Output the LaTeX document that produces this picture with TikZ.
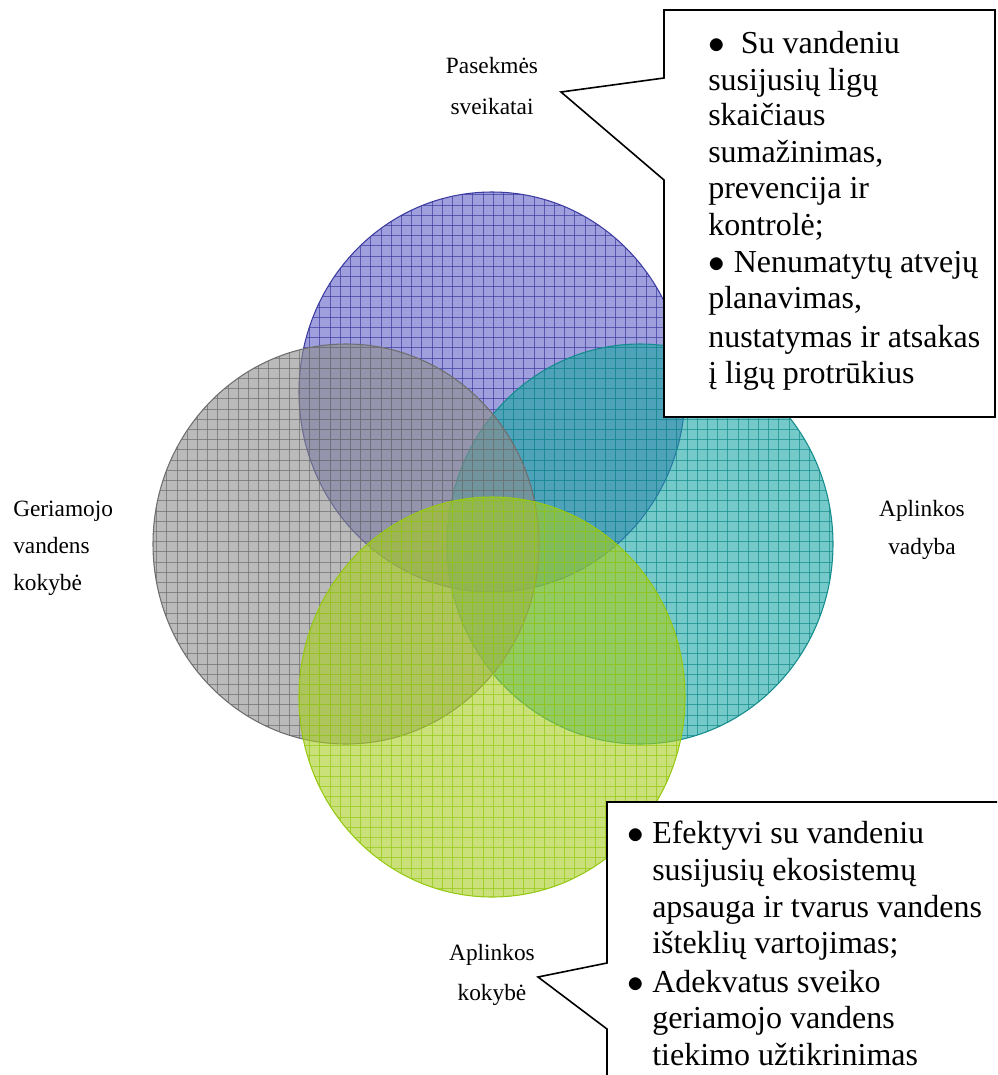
\documentclass[tikz,border=0pt]{standalone}
\usepackage{fontspec}
\setmainfont{Liberation Serif}
\definecolor{hblue}{RGB}{95,95,200}\definecolor{hblueln}{RGB}{60,60,160}
\definecolor{hteal}{RGB}{25,165,165}\definecolor{htealln}{RGB}{20,140,140}
\definecolor{hgray}{RGB}{140,140,140}\definecolor{hgrayln}{RGB}{110,110,110}
\definecolor{hgreen}{RGB}{165,205,30}\definecolor{hgreenln}{RGB}{150,200,20}
\begin{document}
\begin{tikzpicture}[x=.75pt,y=-.75pt,line cap=round,
  lbl/.style={font=\fontsize{17.5}{21}\selectfont,inner sep=0,anchor=base},
  btxt/.style={font=\fontsize{24}{28}\selectfont,inner sep=0,anchor=base west},
  callout/.style={draw=black,fill=white,line width=1.2pt,line join=miter,line cap=butt}]
\useasboundingbox(0,0)rectangle(997,1075);
\clip(0,0)rectangle(997,1075);
% hatched discs, back to front
\foreach\cx/\cy/\fc/\lc in{492/392/hblue/hblueln,640/544/hteal/htealln,346/544/hgray/hgrayln,492/697/hgreen/hgreenln}{
  \pgfmathtruncatemacro\kx{round((\cx-360.7)/10.2)}\pgfmathtruncatemacro\ky{round((\cy-256)/10.2)}
  \begin{scope}\clip(\cx,\cy)ellipse(193 and 200);\fill[\fc,fill opacity=.6](\cx,\cy)ellipse(193 and 200);
  \foreach\j in{-20,...,20}\draw[\lc,draw opacity=.7,line width=.7pt]({360.7+10.2*(\kx+\j)},{\cy-205})--++(0,410);
  \foreach\j in{-21,...,21}\draw[\lc,draw opacity=.7,line width=.7pt]({\cx-200},{256+10.2*(\ky+\j)})--++(400,0);
  \end{scope}
  \draw[\lc,line width=.8pt](\cx,\cy)ellipse(193 and 200);}
% labels
\foreach\yy/\tline[count=\i]in{73/Pasekmės,114/sveikatai}\node[lbl](ps\i)at(492,\yy){\tline};
\foreach\yy/\tline[count=\i]in{516/Geriamojo,553/vandens,590/kokybė}\node[lbl,anchor=base west](gv\i)at(13,\yy){\tline};
\foreach\yy/\tline[count=\i]in{516/Aplinkos,554/vadyba}\node[lbl](av\i)at(922,\yy){\tline};
\foreach\yy/\tline[count=\i]in{960/Aplinkos,1000/kokybė}\node[lbl](ak\i)at(492,\yy){\tline};
% health callout
\coordinate(htip)at(561,92);
\draw[callout](664,10)--(995,10)--(995,417)--(664,417)--(664,180)--(htip)--(664,78)--cycle;
\foreach\yy/\tline[count=\i]in{53/{$\bullet$\hspace{.5em}Su vandeniu},90/{susijusių ligų},125/{skaičiaus},162/{sumažinimas,},198/{prevencija ir},235/{kontrolė;},272/{$\bullet$\hspace{.28em}Nenumatytų atvejų},308/{planavimas,},347/{nustatymas ir atsakas},383/{į ligų protrūkius}}\node[btxt](hl\i)at(708,\yy){\tline};
% environment quality callout
\coordinate(etip)at(538,977);
\draw[callout](607,1090)--(607,1029)--(etip)--(607,963)--(607,802)--(1010,802)--(1010,1090)--cycle;
\node[btxt](eb1)at(627,843){$\bullet$};\node[btxt](eb2)at(627,992){$\bullet$};
\foreach\yy/\tline[count=\i]in{843/{Efektyvi su vandeniu},880/{susijusių ekosistemų},917/{apsauga ir tvarus vandens},953/{išteklių vartojimas;},992/{Adekvatus sveiko},1028/{geriamojo vandens},1065/{tiekimo užtikrinimas}}\node[btxt](eq\i)at(652,\yy){\tline};
\end{tikzpicture}
\end{document}
